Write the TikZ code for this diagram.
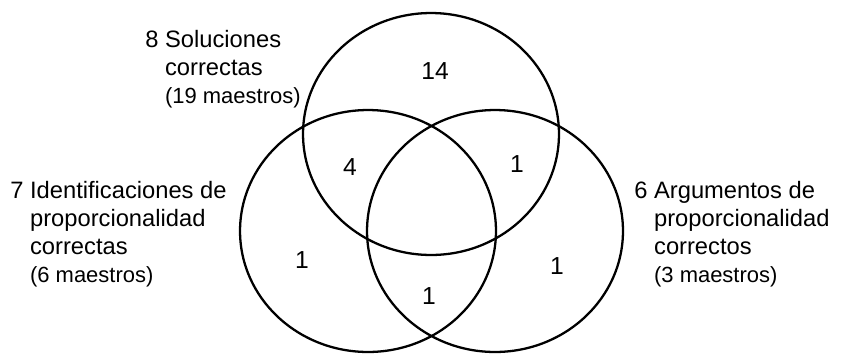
\documentclass[tikz,border=0pt]{standalone}
\usepackage{fontspec}
\setmainfont{Liberation Sans}
\usetikzlibrary{shapes.geometric}
\tikzset{
  conjunto/.style={draw, ellipse, line width=1.3pt, minimum width=51.2mm, minimum height=48.4mm, inner sep=0pt},
  etiqueta/.style={anchor=base west, inner sep=0pt, font=\fontsize{13.5}{16}\selectfont},
  cifra/.style={inner sep=0pt, font=\fontsize{14}{16}\selectfont},
}
\newcommand{\maestros}[1]{{\fontsize{12.5}{14}\selectfont(#1 maestros)}}
\begin{document}
\begin{tikzpicture}[x=0.02cm, y=0.02cm]
	\useasboundingbox (0,0) rectangle (847,353);
	%Conjuntos del diagrama
	\node[conjunto] (Sol) at (431,219) {};
	\node[conjunto] (Ide) at (368,122) {};
	\node[conjunto] (Arg) at (495,122) {};
	%Etiquetas de los conjuntos
	\node[etiqueta] (ESol) at (145,306) {\begin{tabular}[t]{@{}l@{\ }l@{}}8 & Soluciones\\ & correctas\\ & \maestros{19}\end{tabular}};
	\node[etiqueta] (EIde) at (10,155) {\begin{tabular}[t]{@{}l@{\ }l@{}}7 & Identificaciones de\\ & proporcionalidad\\ & correctas\\ & \maestros{6}\end{tabular}};
	\node[etiqueta] (EArg) at (634,155) {\begin{tabular}[t]{@{}l@{\ }l@{}}6 & Argumentos de\\ & proporcionalidad\\ & correctos\\ & \maestros{3}\end{tabular}};
	%Cantidades en cada region
	\node[cifra] (R100) at (435,282) {14};
	\node[cifra] (R110) at (350,186) {4};
	\node[cifra] (R101) at (517,189) {1};
	\node[cifra] (R010) at (302,93) {1};
	\node[cifra] (R001) at (557,87) {1};
	\node[cifra] (R011) at (429,57) {1};
\end{tikzpicture}
\end{document}
